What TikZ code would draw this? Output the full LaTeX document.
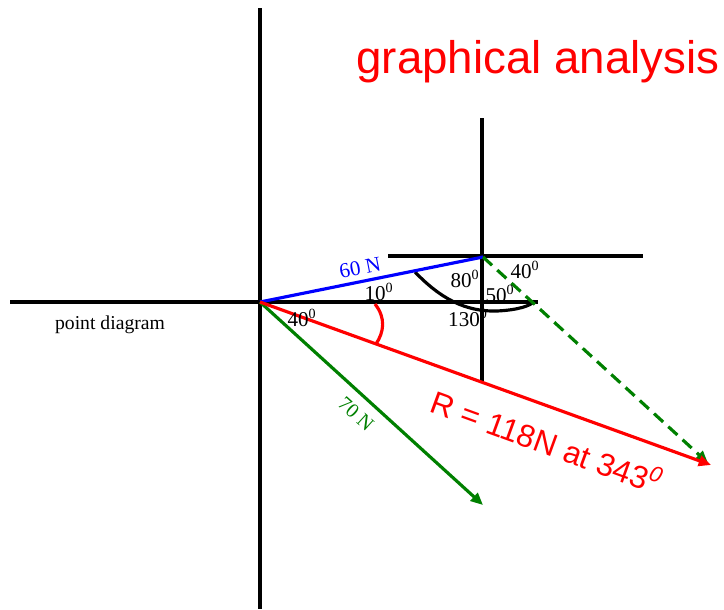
\documentclass[tikz,border=0pt]{standalone}
\usepackage{fontspec}
\setmainfont{Liberation Serif}
\newfontfamily\arialfont{Liberation Sans}
\usetikzlibrary{arrows.meta}
\begin{document}
\begin{tikzpicture}[x=0.02cm, y=-0.02cm, axis/.style={line width=2pt, black},
    vec/.style={line width=1.8pt, -{Triangle[length=7pt, width=6pt]}},
    lbl/.style={inner sep=0pt, font=\fontsize{12}{12}\selectfont}]
        \useasboundingbox (0,0) rectangle (724,609);

        % Osie diagramu punktowego
        \coordinate (axT) at (260,8);
        \coordinate (axB) at (260,609);
        \coordinate (axL) at (10,302);
        \coordinate (axR) at (538,302);
        \draw[axis] (axT) -- (axB);
        \draw[axis] (axL) -- (axR);

        % Osie w końcu wektora 60 N
        \coordinate (bxT) at (482,118);
        \coordinate (bxB) at (482,383);
        \coordinate (bxL) at (388,256);
        \coordinate (bxR) at (643,256);
        \draw[axis] (bxT) -- (bxB);
        \draw[axis] (bxL) -- (bxR);

        % Punkty wektorów
        \coordinate (O) at (260,302);
        \coordinate (P) at (483,257);
        \coordinate (S) at (483,505);
        \coordinate (Q) at (711,465);
        \coordinate (D) at (708,463);

        % Łuki kątów
        \draw[line width=1.8pt] (415,272) .. controls (440,298) and (465,312) .. (497,311)
            .. controls (518,310) and (530,306) .. (535,301);
        \draw[line width=1.8pt, red] (375,304) .. controls (386,318) and (384,332) .. (376,344);

        % Wektory
        \draw[line width=1.8pt, blue] (O) -- (P);
        \draw[vec, green!50!black] (O) -- (S);
        \draw[vec, green!50!black, dashed, dash pattern=on 7pt off 4pt] (P) -- (D);
        \draw[vec, red] (O) -- (Q);

        % Opisy
        \node[lbl, blue, rotate=11] (f1) at (360,268) {60 N};
        \node[lbl, green!50!black, rotate=-42, font=\fontsize{11.5}{12}\selectfont] (f2) at (356,414) {70 N};
        \node[lbl] (a10) at (379,292) {10\textsuperscript{0}};
        \node[lbl] (a40) at (302,318) {40\textsuperscript{0}};
        \node[lbl] (a80) at (465,279) {80\textsuperscript{0}};
        \node[lbl] (a50) at (500,294) {50\textsuperscript{0}};
        \node[lbl] (a40b) at (525,270) {40\textsuperscript{0}};
        \node[lbl] (a130) at (468,318) {130\textsuperscript{0}};
        \node[lbl, font=\fontsize{11.2}{12}\selectfont] (pd) at (110,325) {point diagram};
        \node[inner sep=0pt, red, rotate=-20, font=\arialfont\fontsize{18}{18}\selectfont] (res) at (547,441)
            {R = 118N at 343\textsuperscript{\itshape 0}};
        \node[inner sep=0pt, red, font=\arialfont\fontsize{26}{26}\selectfont] (title) at (538,62) {graphical analysis};
    \end{tikzpicture}
\end{document}
